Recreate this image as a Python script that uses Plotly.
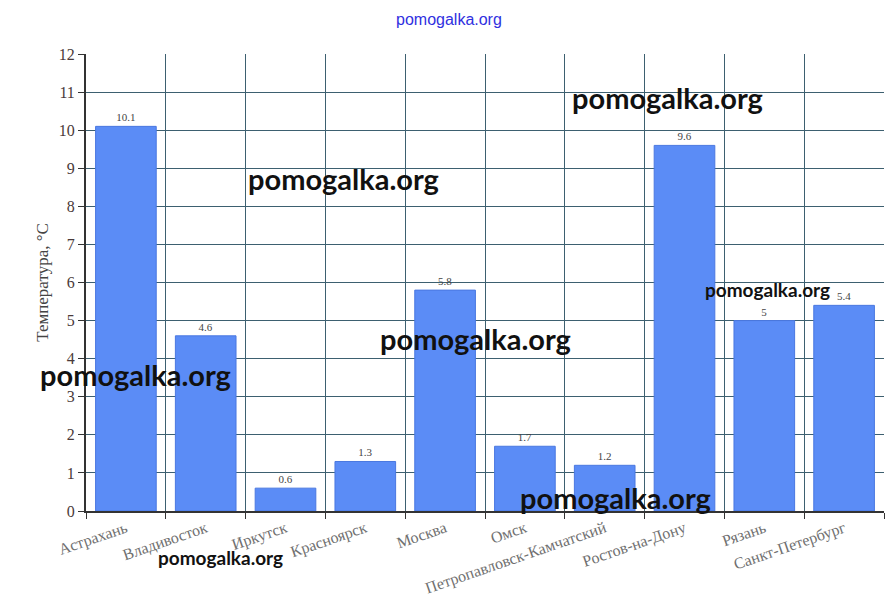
import plotly.graph_objects as go

cities = ["Астрахань", "Владивосток", "Иркутск", "Красноярск", "Москва", "Омск",
          "Петропавловск-Камчатский", "Ростов-на-Дону", "Рязань", "Санкт-Петербург"]
temps = [10.1, 4.6, 0.6, 1.3, 5.8, 1.7, 1.2, 9.6, 5, 5.4]
labels = ["10.1", "4.6", "0.6", "1.3", "5.8", "1.7", "1.2", "9.6", "5", "5.4"]
y_ticks = list(range(0, 13))

OFF = 8  # page body margin
W, H = 894 - 2 * OFF, 607 - 2 * OFF
L, R, T, B = 86 - OFF, 2, 54 - OFF, 88
pw, ph = W - L - R, H - T - B

fig = go.Figure(go.Bar(
    x=cities, y=temps, width=0.76,
    marker=dict(color="#5b8cf6", line=dict(color="#4a78e0", width=1)),
    text=labels, textposition="outside", cliponaxis=False,
    textfont=dict(family="Liberation Serif", size=11, color="#444444"),
))

def px2paper(x, y):
    return (x - OFF - L) / pw, (OFF + T + ph - y) / ph

marks = [(343, 178, 29), (667, 97, 29), (475, 338, 29), (135, 374, 29), (615, 497, 29),
         (767, 289, 19), (220, 557, 19)]
for (x, y, s) in marks:
    xp, yp = px2paper(x, y)
    fig.add_annotation(x=xp, y=yp, xref="paper", yref="paper", text="pomogalka.org",
                       showarrow=False, font=dict(family="Lato", size=s, color="#111111", weight="bold"),
                       xanchor="center", yanchor="middle")

xp, yp = px2paper(449, 9)
fig.add_annotation(x=xp, y=yp, xref="paper", yref="paper", text="pomogalka.org",
                   showarrow=False, font=dict(family="Liberation Sans", size=16, color="#3030e0"),
                   xanchor="center", yanchor="top")

fig.update_layout(
    width=W, height=H, margin=dict(l=L, r=R, t=T, b=B),
    paper_bgcolor="white", plot_bgcolor="white", showlegend=False,
    xaxis=dict(type="category", tickson="boundaries", showgrid=True, gridcolor="#3d6070", gridwidth=1,
               ticks="outside", ticklen=6, tickcolor="#333", tickangle=-19, automargin=False,
               showline=True, linecolor="#333", linewidth=2, mirror=False,
               tickfont=dict(family="Liberation Serif", size=16, color="#707070"),
               range=[-0.5, 9.5]),
    yaxis=dict(range=[0, 12], tickvals=y_ticks, showgrid=True, gridcolor="#3d6070", gridwidth=1,
               ticks="outside", ticklen=6, tickcolor="#333", automargin=False,
               showline=True, linecolor="#333", linewidth=2, zeroline=False,
               tickfont=dict(family="Liberation Serif", size=16, color="#4a3a3a"),
               title=dict(text="Температура, °С", font=dict(family="Liberation Serif", size=17, color="#444"),
                          standoff=6)),
)

fig.write_html("out.html")
